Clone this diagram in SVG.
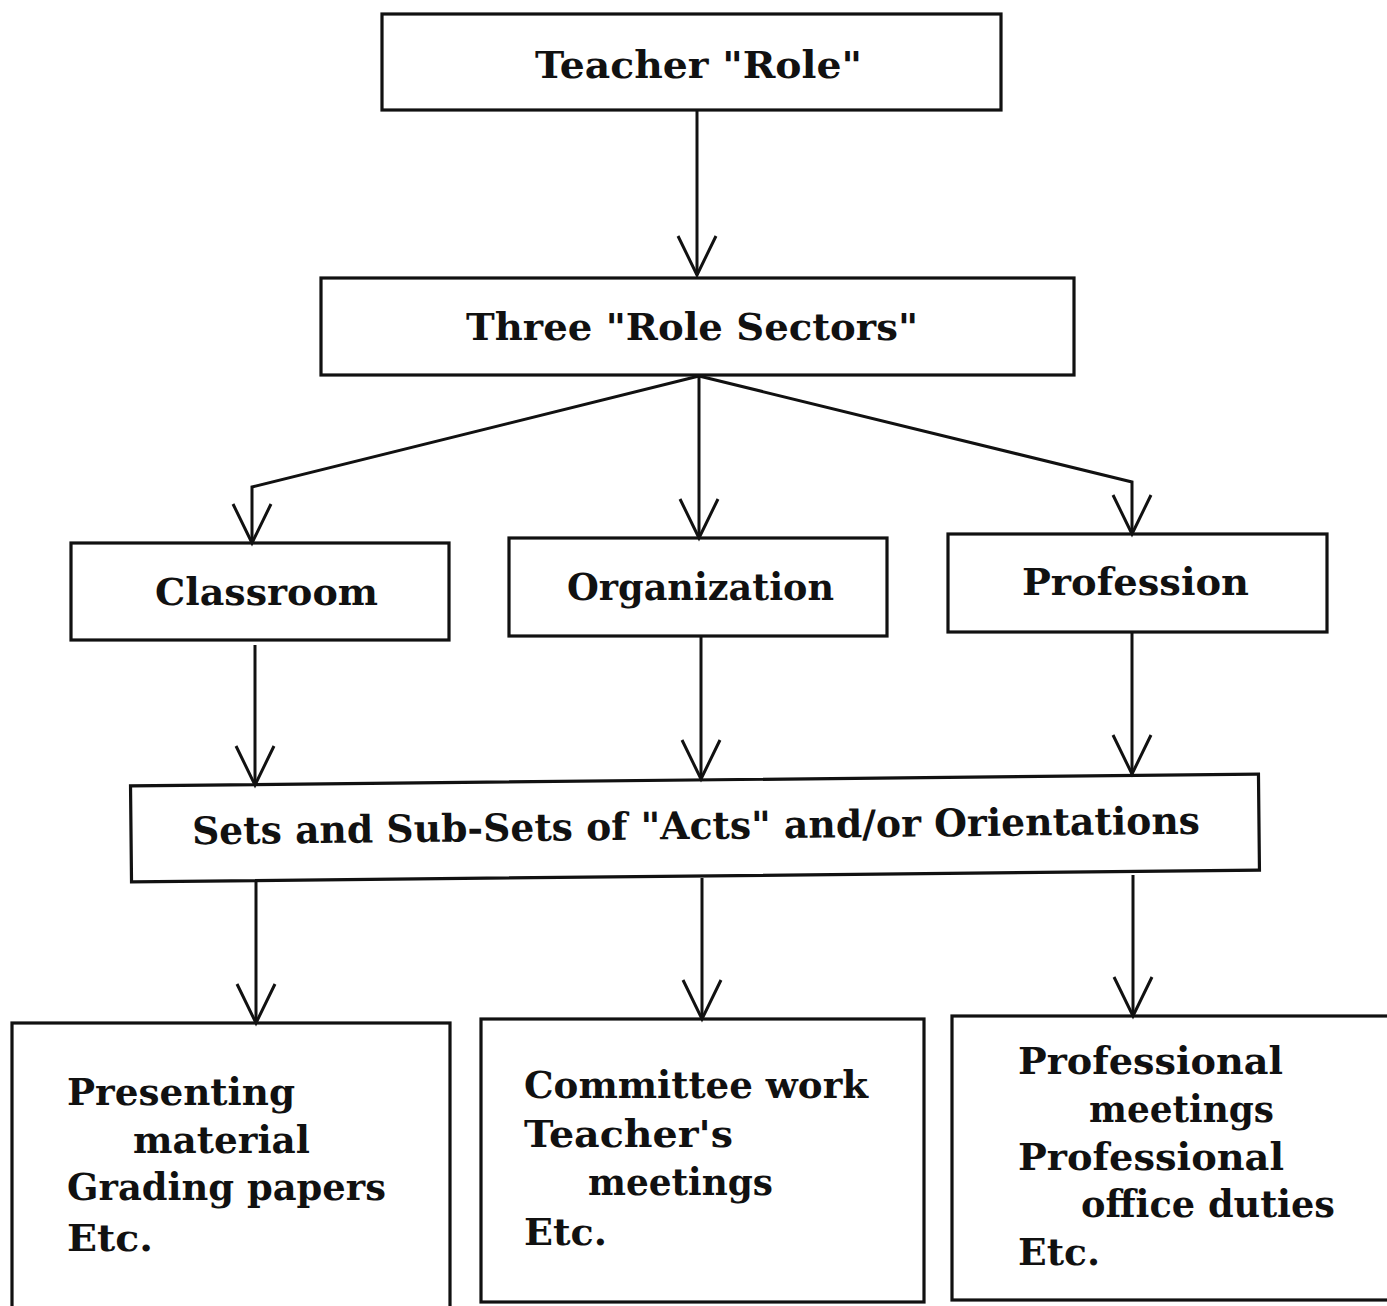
<svg xmlns="http://www.w3.org/2000/svg" width="1387" height="1306" viewBox="0 0 1387 1306">
  <defs>
    <style>
      .box { fill: none; stroke: #111; stroke-width: 3.2; }
      .wire { fill: none; stroke: #111; stroke-width: 3; stroke-linejoin: miter; }
      .lbl { font-family: "DejaVu Serif", "Liberation Serif", serif; font-weight: bold; font-size: 38px; fill: #111; }
    </style>
    <marker id="vee" markerUnits="userSpaceOnUse" markerWidth="50" markerHeight="50" refX="0" refY="0" viewBox="-45 -25 50 50" orient="auto" overflow="visible">
      <path d="M-39,-19 L0,0 L-39,19" fill="none" stroke="#111" stroke-width="3"/>
    </marker>
  </defs>
  <rect width="1387" height="1306" fill="#fff"/>

  <!-- connectors -->
  <g id="connectors" class="wire">
    <path d="M697,110 L697,275" marker-end="url(#vee)"/>
    <path d="M699,376 L252,487 L252,543" marker-end="url(#vee)"/>
    <path d="M699,376 L699,538" marker-end="url(#vee)"/>
    <path d="M699,376 L1132,482 L1132,534" marker-end="url(#vee)"/>
    <path d="M255,645 L255,785" marker-end="url(#vee)"/>
    <path d="M701,636 L701,779" marker-end="url(#vee)"/>
    <path d="M1132,632 L1132,774" marker-end="url(#vee)"/>
    <path d="M256,882 L256,1023" marker-end="url(#vee)"/>
    <path d="M702,878 L702,1019" marker-end="url(#vee)"/>
    <path d="M1133,875 L1133,1016" marker-end="url(#vee)"/>
  </g>

  <!-- top node -->
  <g id="teacher-role">
    <rect class="box" x="382" y="14" width="619" height="96"/>
    <text class="lbl" x="535" y="78" textLength="327" lengthAdjust="spacingAndGlyphs">Teacher "Role"</text>
  </g>

  <g id="role-sectors">
    <rect class="box" x="321" y="278" width="753" height="97"/>
    <text class="lbl" x="466" y="340" textLength="452" lengthAdjust="spacingAndGlyphs">Three "Role Sectors"</text>
  </g>

  <!-- three sectors -->
  <g id="classroom">
    <rect class="box" x="71" y="543" width="378" height="97"/>
    <text class="lbl" x="155" y="605" textLength="223" lengthAdjust="spacingAndGlyphs">Classroom</text>
  </g>
  <g id="organization">
    <rect class="box" x="509" y="538" width="378" height="98"/>
    <text class="lbl" x="567" y="600" textLength="267" lengthAdjust="spacingAndGlyphs">Organization</text>
  </g>
  <g id="profession">
    <rect class="box" x="948" y="534" width="379" height="98"/>
    <text class="lbl" x="1022" y="595" textLength="227" lengthAdjust="spacingAndGlyphs">Profession</text>
  </g>

  <!-- acts and orientations -->
  <g id="acts" transform="rotate(-0.6 695 829)">
    <rect class="box" x="131" y="780" width="1128" height="96"/>
    <text class="lbl" x="192" y="839" textLength="1008" lengthAdjust="spacingAndGlyphs">Sets and Sub-Sets of "Acts" and/or Orientations</text>
  </g>

  <!-- example activities -->
  <g id="classroom-acts">
    <rect class="box" x="12" y="1023" width="438" height="300"/>
    <text class="lbl" x="67" y="1105" textLength="228" lengthAdjust="spacingAndGlyphs">Presenting</text>
    <text class="lbl" x="133" y="1153" textLength="177" lengthAdjust="spacingAndGlyphs">material</text>
    <text class="lbl" x="67" y="1200" textLength="319" lengthAdjust="spacingAndGlyphs">Grading papers</text>
    <text class="lbl" x="67" y="1251" textLength="86" lengthAdjust="spacingAndGlyphs">Etc.</text>
  </g>
  <g id="organization-acts">
    <rect class="box" x="481" y="1019" width="443" height="283"/>
    <text class="lbl" x="524" y="1098" textLength="344" lengthAdjust="spacingAndGlyphs">Committee work</text>
    <text class="lbl" x="524" y="1147" textLength="209" lengthAdjust="spacingAndGlyphs">Teacher's</text>
    <text class="lbl" x="588" y="1195" textLength="185" lengthAdjust="spacingAndGlyphs">meetings</text>
    <text class="lbl" x="524" y="1245" textLength="83" lengthAdjust="spacingAndGlyphs">Etc.</text>
  </g>
  <g id="profession-acts">
    <rect class="box" x="952" y="1016" width="450" height="284"/>
    <text class="lbl" x="1018" y="1074" textLength="265" lengthAdjust="spacingAndGlyphs">Professional</text>
    <text class="lbl" x="1089" y="1122" textLength="185" lengthAdjust="spacingAndGlyphs">meetings</text>
    <text class="lbl" x="1018" y="1170" textLength="266" lengthAdjust="spacingAndGlyphs">Professional</text>
    <text class="lbl" x="1081" y="1217" textLength="254" lengthAdjust="spacingAndGlyphs">office duties</text>
    <text class="lbl" x="1018" y="1265" textLength="82" lengthAdjust="spacingAndGlyphs">Etc.</text>
  </g>
</svg>
